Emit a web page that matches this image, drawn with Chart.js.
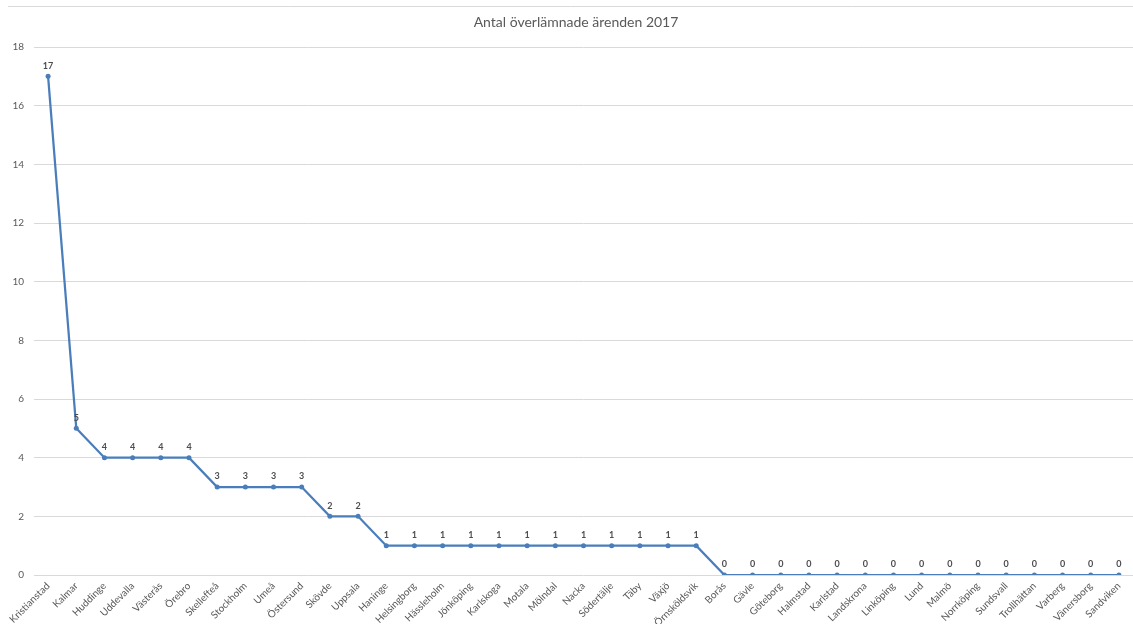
<!DOCTYPE html>
<html lang="sv">
<head>
<meta charset="utf-8">
<title>Antal överlämnade ärenden 2017</title>
<script src="https://cdn.jsdelivr.net/npm/chart.js@4/dist/chart.umd.min.js"></script>
<style>
  html, body { margin: 0; padding: 0; background: #ffffff; }
  #wrap { position: relative; width: 1133px; height: 624px; }
</style>
</head>
<body>
<div id="wrap"><canvas id="chart" width="1133" height="624"></canvas></div>
<script>
// Orter och antal överlämnade ärenden
const cities = [
  'Kristianstad', 'Kalmar', 'Huddinge', 'Uddevalla', 'Västerås', 'Örebro',
  'Skellefteå', 'Stockholm', 'Umeå', 'Östersund', 'Skövde', 'Uppsala',
  'Haninge', 'Helsingborg', 'Hässleholm', 'Jönköping', 'Karlskoga', 'Motala',
  'Mölndal', 'Nacka', 'Södertälje', 'Täby', 'Växjö', 'Örnsköldsvik',
  'Borås', 'Gävle', 'Göteborg', 'Halmstad', 'Karlstad', 'Landskrona',
  'Linköping', 'Lund', 'Malmö', 'Norrköping', 'Sundsvall', 'Trollhättan',
  'Varberg', 'Vänersborg', 'Sandviken'
];
const cases = [
  17, 5, 4, 4, 4, 4,
  3, 3, 3, 3, 2, 2,
  1, 1, 1, 1, 1, 1,
  1, 1, 1, 1, 1, 1,
  0, 0, 0, 0, 0, 0,
  0, 0, 0, 0, 0, 0,
  0, 0, 0
];
const yTicks = [0, 2, 4, 6, 8, 10, 12, 14, 16, 18];
const chartTitle = 'Antal överlämnade ärenden 2017';

const FONT = 'Lato, "Open Sans", "Liberation Sans", sans-serif';
const LINE = '#4A7EBB';
const GRID = '#D9D9D9';
const TEXT = '#595959';

// Title, frame line and value labels above each point
const decorations = {
  id: 'decorations',
  afterDraw(chart) {
    const ctx = chart.ctx;
    ctx.save();
    // top frame line
    ctx.strokeStyle = GRID;
    ctx.lineWidth = 1;
    ctx.beginPath();
    ctx.moveTo(8, 6.5);
    ctx.lineTo(chart.width, 6.5);
    ctx.stroke();
    // title
    ctx.fillStyle = TEXT;
    ctx.font = '14px ' + FONT;
    ctx.textAlign = 'center';
    ctx.textBaseline = 'middle';
    ctx.fillText(chartTitle, 576, 22);
    // value labels
    const meta = chart.getDatasetMeta(0);
    ctx.fillStyle = '#4d4d4d';
    ctx.font = 'bold 9px ' + FONT;
    ctx.textBaseline = 'bottom';
    meta.data.forEach((pt, i) => {
      ctx.fillText(String(cases[i]), pt.x, pt.y - 6);
    });
    ctx.restore();
  }
};

new Chart(document.getElementById('chart'), {
  type: 'line',
  data: {
    labels: cities,
    datasets: [{
      data: cases,
      borderColor: LINE,
      backgroundColor: LINE,
      borderWidth: 2.25,
      pointRadius: 2.5,
      pointHoverRadius: 2.5,
      pointBorderWidth: 0,
      tension: 0,
      fill: false
    }]
  },
  options: {
    responsive: false,
    animation: false,
    layout: { autoPadding: false, padding: { top: 47, right: 0, left: 0, bottom: 0 } },
    plugins: {
      legend: { display: false },
      title: { display: false },
      tooltip: { enabled: false }
    },
    scales: {
      x: {
        type: 'category',
        offset: true,
        grid: { display: false, drawTicks: false },
        border: { display: false },
        ticks: {
          color: TEXT,
          font: { family: FONT, size: 10 },
          minRotation: 45,
          maxRotation: 45,
          autoSkip: false,
          padding: 5
        },
        afterFit(scale) {
          scale.height = 49;
          scale.paddingLeft = 0;
          scale.paddingRight = 0;
        }
      },
      y: {
        min: 0,
        max: 18,
        afterBuildTicks(scale) { scale.ticks = yTicks.map(v => ({ value: v })); },
        grid: { color: GRID, drawTicks: false },
        border: { display: false },
        ticks: {
          color: TEXT,
          font: { family: FONT, size: 10 },
          padding: 10
        },
        afterFit(scale) { scale.width = 34; }
      }
    }
  },
  plugins: [decorations]
});
</script>
</body>
</html>
